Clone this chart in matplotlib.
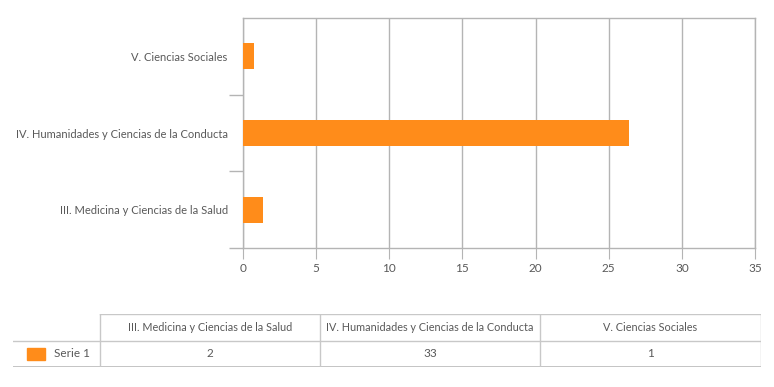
import matplotlib
matplotlib.use("Agg")
import matplotlib.pyplot as plt
from matplotlib.patches import Rectangle

# ---------- data ----------
categories = ["III. Medicina y Ciencias de la Salud",
              "IV. Humanidades y Ciencias de la Conducta",
              "V. Ciencias Sociales"]
bar_values = [1.35, 26.4, 0.75]        # bar lengths as drawn
table_values = ["2", "33", "1"]        # values printed in the data table
series_name = "Serie 1"
x_ticks = [0, 5, 10, 15, 20, 25, 30, 35]

orange = "#FF8C1A"
grid_c = "#B4B4B4"
text_c = "#595959"
plt.rcParams['font.family'] = ['Lato', 'DejaVu Sans']
fs = 8

W, H = 774, 387
fig = plt.figure(figsize=(W / 100, H / 100), dpi=100)

# ---------- bar chart ----------
ax = fig.add_axes([243 / W, (H - 248) / H, (755 - 243) / W, 230 / H])
y = list(range(len(categories)))
ax.barh(y, bar_values, height=0.34, color=orange, zorder=3)
ax.set_xlim(0, 35)
ax.set_ylim(-0.5, len(categories) - 0.5)
ax.set_xticks(x_ticks)
ax.set_xticklabels([str(t) for t in x_ticks], fontsize=fs + 0.5, color=text_c)
ax.tick_params(axis='x', length=8, color=grid_c, pad=3)
ax.set_yticks(y)
ax.set_yticklabels(categories, fontsize=fs, color=text_c)
ax.tick_params(axis='y', length=0, pad=11)
ax.set_yticks([-0.5, 0.5, 1.5], minor=True)
ax.tick_params(axis='y', which='minor', length=10, color=grid_c, width=1)
ax.grid(axis='x', color=grid_c, linewidth=1, zorder=0)
for s in ax.spines.values():
    s.set_color(grid_c)
    s.set_linewidth(1)

# ---------- data table ----------
tx0, tx1 = 13, 760.5
ty0, ty1 = 314, 367
tab = fig.add_axes([tx0 / W, (H - ty1) / H, (tx1 - tx0) / W, (ty1 - ty0) / H])
tab.set_axis_off()
first_w = (100 - tx0) / (tx1 - tx0)
col_w = (1 - first_w) / len(categories)
tab.set_xlim(0, 1)
tab.set_ylim(0, 1)
line_c = "#C8C8C8"
# horizontal lines
tab.plot([first_w, 1], [1, 1], color=line_c, lw=1)
tab.plot([0, 1], [0.5, 0.5], color=line_c, lw=1)
tab.plot([0, 1], [0, 0], color="#BEBEBE", lw=2)
# vertical lines
for i in range(len(categories) + 1):
    xv = first_w + i * col_w
    tab.plot([xv, xv], [0, 1], color=line_c, lw=1)
for i, (c, v) in enumerate(zip(categories, table_values)):
    xc = first_w + (i + 0.5) * col_w
    tab.text(xc, 0.75, c, ha='center', va='center', fontsize=fs - 0.2, color=text_c)
    tab.text(xc, 0.25, v, ha='center', va='center', fontsize=fs + 0.5, color=text_c)
tab.add_patch(Rectangle((14 / (tx1 - tx0), 0.13), 18 / (tx1 - tx0), 0.23,
                        color=orange, transform=tab.transAxes, clip_on=False))
tab.text(41 / (tx1 - tx0), 0.25, series_name, ha='left', va='center',
         fontsize=fs + 0.5, color=text_c)

fig.savefig("out.png", dpi=100)
